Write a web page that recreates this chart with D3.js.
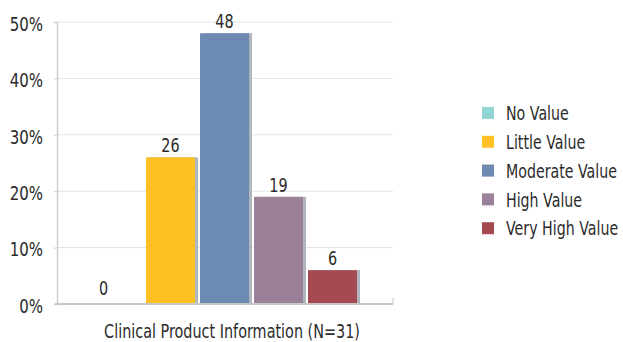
<!DOCTYPE html>
<html>
<head>
<meta charset="utf-8">
<script src="https://cdn.jsdelivr.net/npm/d3@7"></script>
<style>
  html, body { margin: 0; padding: 0; background: #fff; }
  svg { display: block; }
  text { font-family: "DejaVu Sans", sans-serif; fill: #2b2b2b; }
</style>
</head>
<body>
<svg id="chart" width="623" height="342"></svg>
<script>
// Share of respondents per rating (%)
const categories = ["No Value", "Little Value", "Moderate Value", "High Value", "Very High Value"];
const values = [0, 26, 48, 19, 6];
const colors = ["#93d4d4", "#fdc123", "#6d8ab3", "#9b8099", "#a54a50"];
const yTicks = [0, 10, 20, 30, 40, 50];
const tickLabels = ["0%", "10%", "20%", "30%", "40%", "50%"];
const groupLabel = "Clinical Product Information (N=31)";

const svg = d3.select("#chart");
const plot = { left: 57, right: 393, top: 22, bottom: 304 };

// Narrow lettering: place each text at (tx, ty) and squeeze it horizontally
function narrow(sel, tx, ty, sx) {
  sel.attr("x", 0).attr("y", 0)
    .attr("transform", (d, i) => {
      const px = typeof tx === "function" ? tx(d, i) : tx;
      const py = typeof ty === "function" ? ty(d, i) : ty;
      return `translate(${px},${py}) scale(${sx},1)`;
    });
}

const y = d3.scaleLinear().domain([0, 50]).range([plot.bottom, plot.top]);
const x = d3.scaleBand().domain(categories)
  .range([92, 357]).paddingInner(5 / 54).paddingOuter(0);

// Gridlines
svg.append("g").selectAll("line").data(yTicks.slice(1)).join("line")
  .attr("x1", plot.left).attr("x2", plot.right)
  .attr("y1", d => y(d)).attr("y2", d => y(d))
  .attr("stroke", "#e3e3e3").attr("stroke-width", 1);

// Y axis
const yAxis = d3.axisLeft(y).tickValues(yTicks).tickSize(3)
  .tickFormat((d, i) => tickLabels[i]);
const gy = svg.append("g").attr("transform", `translate(${plot.left},0)`).call(yAxis);
gy.attr("font-family", null);
gy.select(".domain").attr("stroke", "#cfcfcf").attr("stroke-width", 1.5);
gy.selectAll(".tick line").attr("stroke", "#cfcfcf");
const tickText = gy.selectAll(".tick text").attr("dy", "0.36em")
  .style("font-size", "20px").attr("fill", "#2b2b2b");
narrow(tickText, -14, 1, 0.75);

// Bars with a thin grey edge on their right side
const bars = svg.append("g").selectAll("g").data(categories).join("g");
bars.append("rect")
  .attr("x", d => x(d) + 3)
  .attr("y", (d, i) => y(values[i]))
  .attr("width", x.bandwidth())
  .attr("height", (d, i) => y(0) - y(values[i]))
  .attr("fill", "#b0b6bd");
bars.append("rect")
  .attr("x", d => x(d))
  .attr("y", (d, i) => y(values[i]))
  .attr("width", x.bandwidth())
  .attr("height", (d, i) => y(0) - y(values[i]))
  .attr("fill", (d, i) => colors[i]);

// Value labels
const valueText = bars.append("text")
  .attr("text-anchor", "middle")
  .style("font-size", "20px")
  .text((d, i) => values[i]);
narrow(valueText,
  (d, i) => x(d) + x.bandwidth() / 2 + (values[i] === 0 ? -13 : 0),
  (d, i) => y(values[i]) - (values[i] === 0 ? 9 : 5),
  0.72);

// Baseline
svg.append("line")
  .attr("x1", plot.left - 2).attr("x2", plot.right)
  .attr("y1", plot.bottom).attr("y2", plot.bottom)
  .attr("stroke", "#c8c8c8").attr("stroke-width", 2);
svg.append("line")
  .attr("x1", plot.right).attr("x2", plot.right)
  .attr("y1", plot.bottom - 6).attr("y2", plot.bottom)
  .attr("stroke", "#c8c8c8").attr("stroke-width", 1);

// Category label
const catText = svg.append("text")
  .attr("text-anchor", "middle")
  .style("font-size", "20px")
  .text(groupLabel);
narrow(catText, 232, 338, 0.72);

// Legend
const legend = svg.append("g").selectAll("g").data(categories).join("g")
  .attr("transform", (d, i) => `translate(482,${113 + i * 28.8})`);
legend.append("rect")
  .attr("x", 0).attr("y", -6).attr("width", 12).attr("height", 12)
  .attr("fill", (d, i) => colors[i]);
const legendText = legend.append("text")
  .attr("dy", "0.36em")
  .style("font-size", "20px")
  .text(d => d);
narrow(legendText, 24, 0, 0.71);
</script>
</body>
</html>
